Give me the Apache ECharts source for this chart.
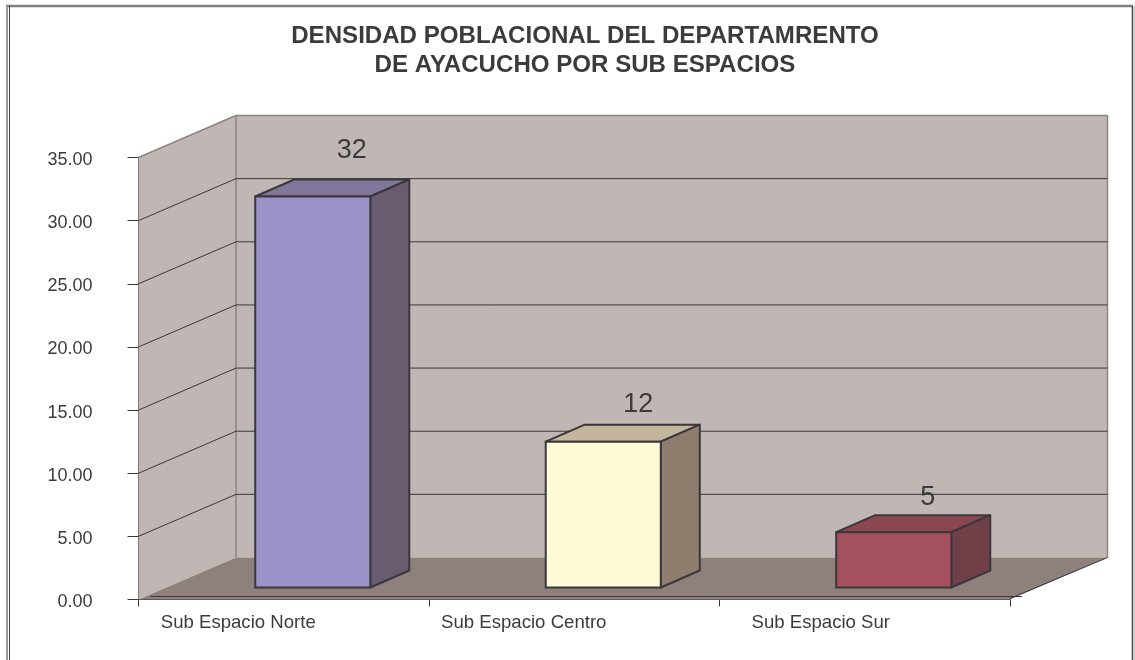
<!DOCTYPE html>
<html><head><meta charset="utf-8">
<style>html,body{margin:0;padding:0;background:#fff}#c{width:1135px;height:660px}</style>
<script src="https://cdn.jsdelivr.net/npm/echarts@6/dist/echarts.min.js"></script>
</head><body><div id="c"></div>
<script>
var categories = ['Sub Espacio Norte', 'Sub Espacio Centro', 'Sub Espacio Sur'];
var barValues = [30.96, 11.55, 4.38];
var barLabels = [32, 12, 5];
var yTicks = [0, 5, 10, 15, 20, 25, 30, 35];

var titleLines = 'DENSIDAD POBLACIONAL DEL DEPARTAMRENTO\nDE AYACUCHO POR SUB ESPACIOS';
var FONT = '"Liberation Sans", Arial, sans-serif';
var TEXT = '#3c3a3e', DARK = '#3a383c', EDGE = '#8f8380';
var WALL = '#c0b6b3', FLOOR = '#8e807b';
var DX = 97.5, DY = 42;
var palettes = [
  {front:'#9b93c7', top:'#82769a', side:'#6a5c70'},
  {front:'#fffbd6', top:'#c4b69c', side:'#8f7e6e'},
  {front:'#a5505e', top:'#8a4750', side:'#704049'}
];

var chart = echarts.init(document.getElementById('c'), null, {renderer:'canvas'});

function poly(points, fill, stroke, lw) {
  return {type:'polygon', shape:{points:points}, style:{fill:fill, stroke:stroke||null, lineWidth:lw||0, lineJoin:'round'}};
}
function seg(a, b, stroke, lw) {
  return {type:'line', shape:{x1:a[0], y1:a[1], x2:b[0], y2:b[1]}, style:{stroke:stroke, lineWidth:lw||1}};
}

function renderChamber(params, api) {
  var v = api.value(0);
  var children = [];
  var p0 = api.coord([0, 0]), band = api.size([1, 0])[0];
  var xl = p0[0] - band / 2, xr = xl + band * 3;
  var y = api.coord([0, v])[1];
  if (params.dataIndex === 0) {
    var yt = api.coord([0, yTicks[yTicks.length - 1]])[1];
    children.push(poly([[xl, y], [xl + DX, y - DY], [xl + DX, yt - DY], [xl, yt]], WALL));
    children.push(poly([[xl + DX, y - DY], [xr + DX, y - DY], [xr + DX, yt - DY], [xl + DX, yt - DY]], WALL));
    children.push(poly([[xl, y], [xl + DX, y - DY], [xr + DX, y - DY], [xr, y]], FLOOR));
    children.push(seg([xl + DX, y - DY], [xl + DX, yt - DY], EDGE, 1.5));
    children.push(seg([xr + DX, y - DY], [xr + DX, yt - DY], EDGE, 1.5));
    children.push(seg([xl + DX, yt - DY], [xr + DX, yt - DY], EDGE, 1.5));
    children.push(seg([xl, yt], [xl + DX, yt - DY], EDGE, 1.5));
    children.push(seg([xl + 12, y - 3], [xr + 12, y - 3], DARK, 1));
    children.push(seg([xr, y - 1], [xr + DX, y - DY], DARK, 1));
  } else if (v < yTicks[yTicks.length - 1]) {
    children.push(seg([xl, y], [xl + DX, y - DY], DARK, 1));
    children.push(seg([xl + DX, y - DY], [xr + DX, y - DY], DARK, 1));
  }
  return {type:'group', children:children};
}

function renderBar(params, api) {
  var i = api.value(0), v = api.value(1);
  var base = api.coord([i, 0]), topPt = api.coord([i, v]);
  var band = api.size([1, 0])[0];
  var w = band * 0.396, ox = 29, oy = -12, dx = 39, dy = -17;
  var l = base[0] + ox - w / 2, r = l + w;
  var b = base[1] + oy, t = topPt[1] + oy;
  var c = palettes[i];
  var st = DARK, lw = 2;
  return {type:'group', children:[
    poly([[l, t], [l + dx, t + dy], [r + dx, t + dy], [r, t]], c.top, st, lw),
    poly([[r, t], [r + dx, t + dy], [r + dx, b + dy], [r, b]], c.side, st, lw),
    {type:'rect', shape:{x:l, y:t, width:w, height:b - t}, style:{fill:c.front, stroke:st, lineWidth:lw}}
  ]};
}

var labelNudge = [[4, 1], [0, 3], [-1, 7]];
function renderLabel(params, api) {
  var i = api.value(0), lab = api.value(1);
  var p = api.coord([i, lab]);
  return {type:'text', style:{x:p[0] + 64 + labelNudge[i][0], y:p[1] - 46 + labelNudge[i][1], text:String(lab), fill:TEXT,
    font:'27px ' + FONT, textAlign:'center', textVerticalAlign:'middle'}};
}

var richLabels = {
  a:{padding:[0,91,0,0]}, b:{padding:[0,101,0,0]}, c:{padding:[0,88,0,0]}
};
var richKeys = ['a','b','c'];

chart.setOption({
  animation:false,
  backgroundColor:'#fff',
  title:{text:titleLines, left:580, top:17, textAlign:'center',
    textStyle:{fontFamily:FONT, fontWeight:'bold', fontSize:24.1, lineHeight:29, color:TEXT}},
  grid:{left:138.5, top:157.5, width:871.5, height:442, containLabel:false},
  xAxis:{type:'category', data:categories,
    axisLine:{lineStyle:{color:DARK, width:1}},
    axisTick:{show:true, length:7, lineStyle:{color:DARK}, alignWithLabel:false},
    axisLabel:{margin:14, color:TEXT, fontFamily:FONT, fontSize:18.6, interval:0,
      rich:richLabels,
      formatter:function(v, i){ return '{' + richKeys[i] + '|' + v + '}'; }},
    splitLine:{show:false}},
  yAxis:{type:'value', min:0, max:35, interval:5,
    axisLine:{show:true, lineStyle:{color:DARK, width:1}},
    axisTick:{show:true, length:11, lineStyle:{color:DARK}},
    axisLabel:{margin:46, color:TEXT, fontFamily:FONT, fontSize:18,
      rich:{v:{padding:[5,0,0,0]}},
      formatter:function(v){ return '{v|' + v.toFixed(2) + '}'; }},
    splitLine:{show:false}},
  graphic:[
    {type:'line', shape:{x1:6,y1:6,x2:1133,y2:6}, style:{stroke:'#808080', lineWidth:2.5}},
    {type:'line', shape:{x1:7,y1:6,x2:7,y2:660}, style:{stroke:'#999', lineWidth:2}},
    {type:'line', shape:{x1:9.5,y1:6,x2:9.5,y2:660}, style:{stroke:'#444', lineWidth:1}},
    {type:'line', shape:{x1:1132.5,y1:6,x2:1132.5,y2:660}, style:{stroke:'#444', lineWidth:1.5}},
    {type:'line', shape:{x1:1134.5,y1:6,x2:1134.5,y2:660}, style:{stroke:'#ccc', lineWidth:1}}
  ],
  series:[
    {type:'custom', z:1, silent:true, renderItem:renderChamber, coordinateSystem:'cartesian2d',
      encode:{x:1, y:0}, data:yTicks.map(function(t){ return [t, 0]; })},
    {type:'custom', z:3, silent:true, renderItem:renderBar,
      encode:{x:0, y:1}, data:barValues.map(function(v, i){ return [i, v]; })},
    {type:'custom', z:4, silent:true, renderItem:renderLabel,
      encode:{x:0, y:1}, data:barLabels.map(function(v, i){ return [i, v]; })}
  ]
});
</script></body></html>
